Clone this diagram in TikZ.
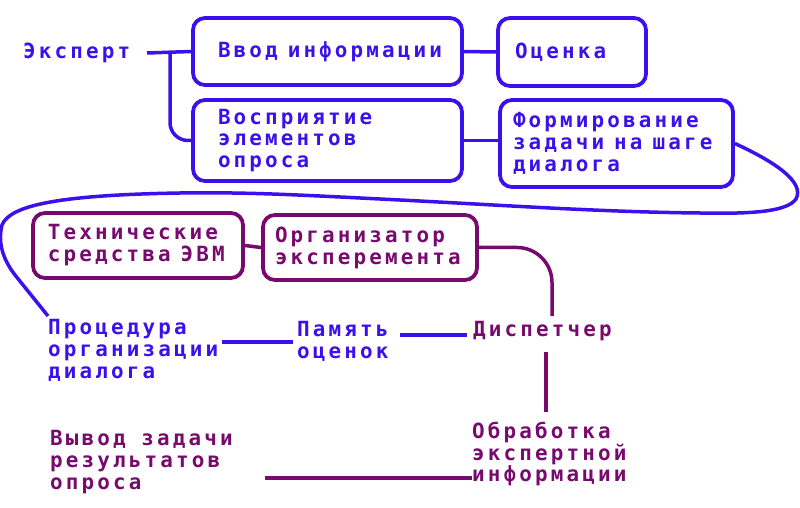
\documentclass[tikz,border=0pt]{standalone}
\usepackage{fontspec}
\newfontfamily\pixfont[LetterSpace=15]{DejaVu Sans Mono Bold}
\definecolor{blueC}{RGB}{60,16,235}
\definecolor{purpC}{RGB}{120,10,110}
\newcommand{\gapsp}{\hspace*{10bp}}
\begin{document}
\begin{tikzpicture}[x=1bp,y=-1bp,
  font=\pixfont\fontsize{21}{22}\selectfont,
  conn/.style={line width=3.5bp},
  bl/.style={draw=blueC},
  pl/.style={draw=purpC},
  boxb/.style={draw=blueC, text=blueC, line width=3.8bp, rounded corners=12bp, align=left, inner ysep=0pt},
  boxp/.style={draw=purpC, text=purpC, line width=3.8bp, rounded corners=12bp, align=left, inner ysep=0pt},
  tb/.style={text=blueC, align=left, inner sep=0pt, anchor=west},
  tp/.style={text=purpC, align=left, inner sep=0pt, anchor=west}]
\useasboundingbox (0,0) rectangle (800,508);
% boxes
\node[boxb, minimum height=67bp, inner xsep=25bp, text width=219bp] (vvod) at (327.5,51.5) {\mbox{Ввод\gapsp информации}};
\node[boxb, minimum height=68bp, inner xsep=17bp, text width=114bp] (ocen) at (572,52) {Оценка};
\node[boxb, minimum height=81bp, inner xsep=25bp, text width=219bp] (vosp) at (327.5,140.5) {Восприятие\\элементов\\опроса};
\node[boxb, minimum height=87bp, inner xsep=13bp, text width=207bp] (form) at (616.5,143.5) {Формирование\\\mbox{задачи\gapsp на\gapsp шаге}\\диалога};
\node[boxp, minimum height=65bp, inner xsep=15bp, text width=180bp] (tech) at (138,245.5) {Технические\\\mbox{средства\gapsp ЭВМ}};
\node[boxp, minimum height=65bp, inner xsep=12bp, text width=190bp] (org) at (370,247.5) {Организатор\\эксперемента};
% free texts
\node[tb] (exp) at (23,53) {Эксперт};
\node[tb] (proc) at (48,350) {Процедура\\организации\\диалога};
\node[tb] (pam) at (297,341) {Память\\оценок};
\node[tp] (disp) at (473,331) {Диспетчер};
\node[tp] (obr) at (472,454) {Обработка\\экспертной\\информации};
\node[tp] (vyv) at (50,462) {Вывод задачи\\результатов\\опроса};
% coordinates
\coordinate (e1) at (147,53);
\coordinate (br) at (170,53);
\coordinate (pmL) at (293,342);
\coordinate (prR) at (222,342);
\coordinate (pmR) at (400,335);
\coordinate (dsL) at (467,335);
\coordinate (dsT) at (552,316);
\coordinate (dsB) at (546,352);
\coordinate (obT) at (546,412);
\coordinate (vyR) at (265,478);
\coordinate (obL) at (472,478);
\coordinate (prT) at (48,316);
% connectors
\draw[conn,bl] (e1) -- (vvod.west);
\draw[conn,bl,rounded corners=18bp] (br) |- (vosp.west);
\draw[conn,bl] (vvod.east) -- (ocen.west);
\draw[conn,bl] (vosp.east) -- (form.west |- vosp.east);
\draw[conn,bl] (form.east) .. controls (775,162) and (805,182) .. (796,199)
  .. controls (787,212) and (750,214) .. (700,213)
  .. controls (600,212) and (500,205) .. (400,200)
  .. controls (300,195) and (250,192) .. (180,193)
  .. controls (60,195) and (10,205) .. (2,225)
  .. controls (-3,245) and (5,262) .. (15,275) -- (prT);
\draw[conn,bl] (prR) -- (pmL);
\draw[conn,bl] (pmR) -- (dsL);
\draw[conn,pl] (tech.east) -- (org.west);
\draw[conn,pl,rounded corners=35bp] (org.east) -| (dsT);
\draw[conn,pl] (dsB) -- (obT);
\draw[conn,pl] (vyR) -- (obL);
\end{tikzpicture}
\end{document}
